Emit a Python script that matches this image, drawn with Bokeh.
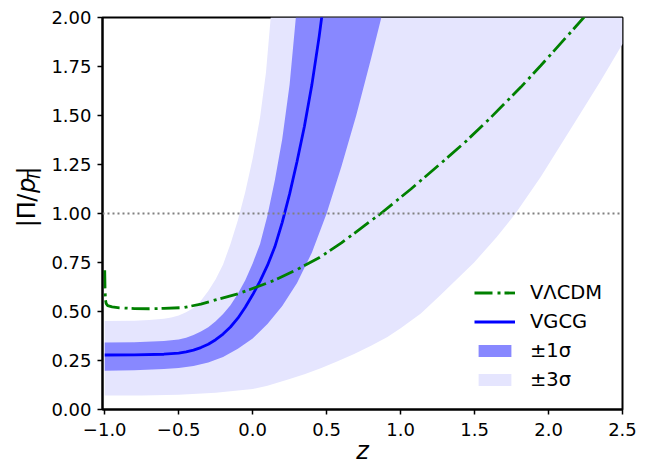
from math import pi
from bokeh.plotting import figure
from bokeh.layouts import row
from bokeh.core.properties import value
from bokeh.models import (Range1d, FixedTicker, CustomJSTickFormatter, Span,
                          Legend, LegendItem)
from bokeh.embed import file_html
from bokeh.resources import INLINE

# ---------------- data ----------------
lcdm_z = [-1.0, -0.998, -0.995, -0.99, -0.98, -0.95, -0.9, -0.8, -0.7, -0.6,
          -0.466, -0.35, -0.238, -0.1, 0.032, 0.15, 0.30, 0.449, 0.6, 0.866,
          1.07, 1.272, 1.43, 1.61, 1.813, 1.948, 2.162, 2.25, 2.30]
lcdm_v = [0.71, 0.62, 0.56, 0.54, 0.53, 0.524, 0.519, 0.515, 0.514, 0.516,
          0.52, 0.538, 0.562, 0.59, 0.626, 0.66, 0.714, 0.774, 0.85, 1.0,
          1.125, 1.256, 1.36, 1.49, 1.645, 1.755, 1.935, 2.01, 2.06]

vgcg_z = [-1.0, -0.8, -0.6, -0.5, -0.45, -0.4, -0.35, -0.3, -0.25, -0.2,
          -0.15, -0.1, -0.05, 0.0, 0.05, 0.1, 0.15, 0.2, 0.25, 0.3, 0.35,
          0.4, 0.45, 0.47]
vgcg_v = [0.278, 0.279, 0.282, 0.288, 0.294, 0.303, 0.316, 0.333, 0.356,
          0.385, 0.421, 0.466, 0.522, 0.585, 0.655, 0.735, 0.83, 0.955, 1.1,
          1.265, 1.445, 1.655, 1.905, 2.02]

s1_upper_z = [-1.0, -0.8, -0.6, -0.5, -0.45, -0.4, -0.35, -0.3, -0.25, -0.2,
              -0.15, -0.1, -0.05, 0.0, 0.05, 0.1, 0.15, 0.2, 0.25, 0.292]
s1_upper_v = [0.342, 0.343, 0.349, 0.357, 0.366, 0.38, 0.398, 0.42, 0.45,
              0.487, 0.532, 0.59, 0.66, 0.745, 0.845, 0.99, 1.17, 1.38, 1.66,
              2.0]
s1_lower_z = [-1.0, -0.8, -0.6, -0.5, -0.4, -0.3, -0.2, -0.1, 0.0, 0.1, 0.2,
              0.3, 0.4, 0.5, 0.6, 0.7, 0.8, 0.87]
s1_lower_v = [0.198, 0.2, 0.206, 0.212, 0.222, 0.24, 0.268, 0.31, 0.362,
              0.436, 0.528, 0.645, 0.8, 1.0, 1.24, 1.5, 1.79, 2.0]

s3_upper_z = [-1.0, -0.8, -0.7, -0.6, -0.55, -0.5, -0.45, -0.4, -0.35, -0.3,
              -0.25, -0.2, -0.15, -0.1, -0.05, 0.0, 0.05, 0.09, 0.122]
s3_upper_v = [0.452, 0.453, 0.456, 0.463, 0.47, 0.48, 0.496, 0.518, 0.555,
              0.605, 0.665, 0.74, 0.845, 0.965, 1.11, 1.28, 1.49, 1.72, 2.0]
s3_lower_z = [-1.0, -0.75, -0.5, -0.25, 0.0, 0.1, 0.25, 0.35, 0.46, 0.57,
              0.686, 0.8, 0.911, 1.0, 1.137, 1.272, 1.497, 1.65, 1.779, 1.948,
              2.173, 2.354, 2.5]
s3_lower_v = [0.071, 0.072, 0.075, 0.085, 0.104, 0.121, 0.155, 0.18, 0.21,
              0.245, 0.283, 0.325, 0.37, 0.415, 0.49, 0.585, 0.75, 0.88, 1.002,
              1.188, 1.459, 1.679, 1.865]

reference_level = 1.0
x_ticks = [-1.0, -0.5, 0.0, 0.5, 1.0, 1.5, 2.0, 2.5]
y_ticks = [0.0, 0.25, 0.5, 0.75, 1.0, 1.25, 1.5, 1.75, 2.0]
legend_labels = ["V\u039bCDM", "VGCG", "\u00b11\u03c3", "\u00b13\u03c3"]

# ---------------- layout ----------------
X_START, X_END = -1.015, 2.5
Y_START, Y_END = 0.0, 2.0
H = 467
WY = 46                     # narrow panel holding the y-axis title
WM = 648 - WY               # main figure
BL, BR, BT, BB = 56, 26, 17, 56
FONT = "DejaVu Sans"
LIGHT = "#E5E5FE"
DARK = "#8888FF"

p = figure(width=WM, height=H, x_range=Range1d(X_START, X_END),
           y_range=Range1d(Y_START, Y_END), output_backend="svg",
           toolbar_location=None, min_border_left=BL, min_border_right=BR,
           min_border_top=BT, min_border_bottom=BB)
p.title.visible = False
p.xgrid.visible = False
p.ygrid.visible = False
p.background_fill_color = "white"
p.border_fill_color = "white"
p.outline_line_color = "black"
p.outline_line_width = 2
p.outline_line_alpha = 1

# +-3 sigma band
xs3 = s3_upper_z + [X_END] + s3_lower_z[::-1]
ys3 = s3_upper_v + [Y_END] + s3_lower_v[::-1]
r3 = p.patch(xs3, ys3, fill_color=LIGHT, line_color=None)

# +-1 sigma band
xs1 = s1_upper_z + s1_lower_z[::-1]
ys1 = s1_upper_v + s1_lower_v[::-1]
r1 = p.patch(xs1, ys1, fill_color=DARK, line_color=None)

p.add_layout(Span(location=reference_level, dimension="width",
                  line_color="gray", line_width=2, line_dash="2 3"))

rb = p.line(vgcg_z, vgcg_v, line_color="blue", line_width=2.8)
rg = p.line(lcdm_z, lcdm_v, line_color="green", line_width=2.8,
            line_dash="18 5 3 4")

# axes
p.xaxis.ticker = FixedTicker(ticks=x_ticks)
p.yaxis.ticker = FixedTicker(ticks=y_ticks)
p.xaxis.formatter = CustomJSTickFormatter(
    code="return (tick < 0 ? '\\u2212' : '') + Math.abs(tick).toFixed(1);")
p.yaxis.formatter = CustomJSTickFormatter(
    code="return (tick < 0 ? '\\u2212' : '') + Math.abs(tick).toFixed(2);")
for ax in (p.xaxis[0], p.yaxis[0]):
    ax.major_label_text_font = FONT
    ax.major_label_text_font_size = "18px"
    ax.major_label_text_color = "black"
    ax.major_tick_out = 5
    ax.major_tick_in = 0
    ax.minor_tick_out = 0
    ax.minor_tick_in = 0
    ax.major_tick_line_width = 1.5
    ax.major_tick_line_color = "black"
    ax.axis_line_width = 2
    ax.axis_line_color = "black"
p.xaxis.major_label_standoff = 8
p.yaxis.major_label_standoff = 6
p.xaxis.axis_label = "z"
p.xaxis.axis_label_text_font = FONT
p.xaxis.axis_label_text_font_size = "24px"
p.xaxis.axis_label_text_font_style = "italic"
p.xaxis.axis_label_text_color = "black"
p.xaxis.axis_label_standoff = -2

legend = Legend(items=[LegendItem(label=legend_labels[0], renderers=[rg]),
                       LegendItem(label=legend_labels[1], renderers=[rb]),
                       LegendItem(label=legend_labels[2], renderers=[r1]),
                       LegendItem(label=legend_labels[3], renderers=[r3])],
                location=(364, 10))
legend.background_fill_alpha = 0
legend.border_line_alpha = 0
legend.label_text_font = FONT
legend.label_text_font_size = "19.5px"
legend.label_text_color = "black"
legend.glyph_width = 41
legend.glyph_height = 15
legend.label_standoff = 15
legend.label_height = 22
legend.spacing = 6
legend.padding = 8
legend.margin = 0
p.add_layout(legend)

# ---------------- y-axis title panel: |Pi/p_T| ----------------
q = figure(width=WY, height=H, x_range=Range1d(0, WY), y_range=Range1d(0, H),
           output_backend="svg", toolbar_location=None, x_axis_type=None,
           y_axis_type=None, min_border=0)
q.title.visible = False
q.xgrid.visible = False
q.ygrid.visible = False
q.outline_line_color = None
q.background_fill_color = "white"
q.border_fill_color = "white"

# rotated title pieces, anchored at their top-left (before rotation):
# text, style, size(px), ascent-side x, start (px from top, text runs upward)
pieces = [("|\u03a0", "normal", 24, 35.0 - 0.93 * 24, 250.0),
          ("/", "normal", 24, 35.0 - 0.93 * 24, 219.6),
          ("p", "italic", 24, 35.0 - 0.93 * 24, 209.1),
          ("T", "italic", 16.8, 39.5 - 0.93 * 16.8, 195.1),
          ("|", "normal", 24, 35.0 - 0.93 * 24, 187.0)]
for txt, style, size, ax_x, start in pieces:
    q.text(x=[ax_x], y=[H - start], text=[txt], angle=pi / 2,
           text_font=value(FONT), text_font_size=value(f"{size}px"),
           text_font_style=style, text_align="left",
           text_baseline="top", text_color="black")

layout = row(q, p)
open("out.html", "w").write(file_html(layout, INLINE))
